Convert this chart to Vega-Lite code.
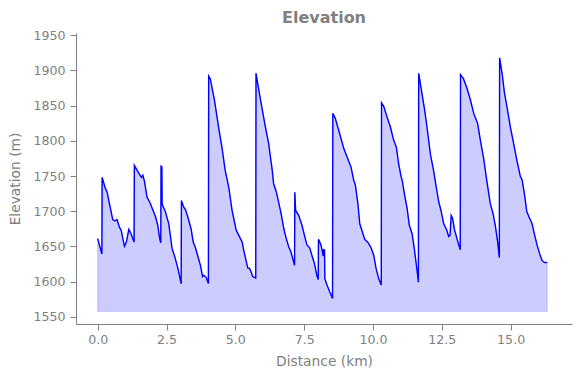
{
  "$schema": "https://vega.github.io/schema/vega-lite/v6.json",
  "width": 496,
  "height": 291,
  "autosize": {"type": "none"},
  "padding": {"left": 76, "top": 33, "right": 8, "bottom": 54},
  "title": {"text": "Elevation", "font": "DejaVu Sans", "fontSize": 16, "fontWeight": "bold", "color": "#808080", "anchor": "middle", "offset": 3},
  "config": {
    "view": {"stroke": null},
    "font": "DejaVu Sans",
    "axis": {
      "grid": false,
      "domainColor": "#808080",
      "tickColor": "#808080",
      "labelColor": "#808080",
      "titleColor": "#808080",
      "labelFont": "DejaVu Sans",
      "titleFont": "DejaVu Sans",
      "labelFontSize": 12.6,
      "titleFontSize": 13.8,
      "titleFontWeight": "normal",
      "tickSize": 6,
      "domainWidth": 1,
      "tickWidth": 1
    }
  },
  "data": {"values": [
    {"d": 0.00, "e": 1661}, {"d": 0.15, "e": 1639}, {"d": 0.16, "e": 1748}, {"d": 0.28, "e": 1732}, {"d": 0.34, "e": 1727},
    {"d": 0.44, "e": 1708}, {"d": 0.545, "e": 1688}, {"d": 0.62, "e": 1686}, {"d": 0.70, "e": 1688}, {"d": 0.79, "e": 1677},
    {"d": 0.85, "e": 1673}, {"d": 0.97, "e": 1650}, {"d": 1.04, "e": 1656}, {"d": 1.13, "e": 1674}, {"d": 1.21, "e": 1668},
    {"d": 1.32, "e": 1656}, {"d": 1.33, "e": 1765}, {"d": 1.49, "e": 1754}, {"d": 1.59, "e": 1748}, {"d": 1.64, "e": 1751},
    {"d": 1.70, "e": 1742}, {"d": 1.79, "e": 1720}, {"d": 1.91, "e": 1711}, {"d": 2.00, "e": 1702}, {"d": 2.10, "e": 1692},
    {"d": 2.18, "e": 1680}, {"d": 2.25, "e": 1661}, {"d": 2.29, "e": 1655}, {"d": 2.30, "e": 1764}, {"d": 2.33, "e": 1763},
    {"d": 2.34, "e": 1710}, {"d": 2.46, "e": 1699}, {"d": 2.58, "e": 1682}, {"d": 2.70, "e": 1647}, {"d": 2.80, "e": 1635},
    {"d": 2.91, "e": 1619}, {"d": 3.03, "e": 1597}, {"d": 3.04, "e": 1715}, {"d": 3.12, "e": 1706}, {"d": 3.19, "e": 1702},
    {"d": 3.27, "e": 1692}, {"d": 3.39, "e": 1675}, {"d": 3.47, "e": 1656}, {"d": 3.55, "e": 1648}, {"d": 3.63, "e": 1637},
    {"d": 3.73, "e": 1623}, {"d": 3.81, "e": 1607}, {"d": 3.85, "e": 1609}, {"d": 3.94, "e": 1606}, {"d": 4.02, "e": 1597},
    {"d": 4.03, "e": 1892}, {"d": 4.09, "e": 1888}, {"d": 4.24, "e": 1858}, {"d": 4.40, "e": 1817}, {"d": 4.52, "e": 1789},
    {"d": 4.63, "e": 1758}, {"d": 4.76, "e": 1734}, {"d": 4.88, "e": 1701}, {"d": 5.03, "e": 1673}, {"d": 5.12, "e": 1666},
    {"d": 5.25, "e": 1656}, {"d": 5.30, "e": 1645}, {"d": 5.40, "e": 1628}, {"d": 5.45, "e": 1619}, {"d": 5.51, "e": 1619},
    {"d": 5.57, "e": 1614}, {"d": 5.63, "e": 1607}, {"d": 5.74, "e": 1605}, {"d": 5.75, "e": 1896}, {"d": 5.91, "e": 1859},
    {"d": 6.08, "e": 1822}, {"d": 6.21, "e": 1796}, {"d": 6.34, "e": 1758}, {"d": 6.39, "e": 1739}, {"d": 6.49, "e": 1727},
    {"d": 6.57, "e": 1713}, {"d": 6.66, "e": 1697}, {"d": 6.76, "e": 1675}, {"d": 6.85, "e": 1661}, {"d": 6.94, "e": 1649},
    {"d": 7.02, "e": 1642}, {"d": 7.15, "e": 1623}, {"d": 7.16, "e": 1727}, {"d": 7.19, "e": 1701}, {"d": 7.30, "e": 1694},
    {"d": 7.42, "e": 1680}, {"d": 7.54, "e": 1661}, {"d": 7.60, "e": 1652}, {"d": 7.70, "e": 1648}, {"d": 7.79, "e": 1636},
    {"d": 7.87, "e": 1626}, {"d": 7.97, "e": 1607}, {"d": 8.01, "e": 1603}, {"d": 8.02, "e": 1660}, {"d": 8.11, "e": 1652},
    {"d": 8.15, "e": 1645}, {"d": 8.19, "e": 1636}, {"d": 8.20, "e": 1645}, {"d": 8.24, "e": 1645}, {"d": 8.25, "e": 1604},
    {"d": 8.33, "e": 1595}, {"d": 8.43, "e": 1585}, {"d": 8.53, "e": 1576}, {"d": 8.54, "e": 1839}, {"d": 8.63, "e": 1832},
    {"d": 8.79, "e": 1810}, {"d": 8.94, "e": 1789}, {"d": 9.08, "e": 1775}, {"d": 9.20, "e": 1763}, {"d": 9.30, "e": 1744},
    {"d": 9.36, "e": 1737}, {"d": 9.45, "e": 1711}, {"d": 9.52, "e": 1682}, {"d": 9.61, "e": 1671}, {"d": 9.70, "e": 1660},
    {"d": 9.81, "e": 1656}, {"d": 9.93, "e": 1648}, {"d": 10.03, "e": 1637}, {"d": 10.11, "e": 1619}, {"d": 10.21, "e": 1604},
    {"d": 10.30, "e": 1595}, {"d": 10.31, "e": 1854}, {"d": 10.39, "e": 1849}, {"d": 10.51, "e": 1834}, {"d": 10.63, "e": 1820},
    {"d": 10.75, "e": 1801}, {"d": 10.85, "e": 1791}, {"d": 10.93, "e": 1768}, {"d": 11.02, "e": 1749}, {"d": 11.06, "e": 1744},
    {"d": 11.14, "e": 1725}, {"d": 11.24, "e": 1704}, {"d": 11.32, "e": 1680}, {"d": 11.42, "e": 1668}, {"d": 11.50, "e": 1647},
    {"d": 11.60, "e": 1616}, {"d": 11.65, "e": 1599}, {"d": 11.66, "e": 1896}, {"d": 11.78, "e": 1867}, {"d": 11.88, "e": 1843},
    {"d": 11.96, "e": 1820}, {"d": 12.09, "e": 1780}, {"d": 12.20, "e": 1758}, {"d": 12.30, "e": 1734}, {"d": 12.39, "e": 1713},
    {"d": 12.47, "e": 1701}, {"d": 12.57, "e": 1682}, {"d": 12.67, "e": 1674}, {"d": 12.75, "e": 1664}, {"d": 12.80, "e": 1666},
    {"d": 12.84, "e": 1694}, {"d": 12.89, "e": 1690}, {"d": 12.96, "e": 1674}, {"d": 13.05, "e": 1661}, {"d": 13.17, "e": 1645},
    {"d": 13.18, "e": 1894}, {"d": 13.29, "e": 1888}, {"d": 13.42, "e": 1874}, {"d": 13.54, "e": 1858}, {"d": 13.66, "e": 1839},
    {"d": 13.76, "e": 1829}, {"d": 13.80, "e": 1825}, {"d": 13.90, "e": 1801}, {"d": 14.02, "e": 1775}, {"d": 14.14, "e": 1742},
    {"d": 14.26, "e": 1711}, {"d": 14.36, "e": 1697}, {"d": 14.45, "e": 1678}, {"d": 14.53, "e": 1656}, {"d": 14.59, "e": 1634},
    {"d": 14.60, "e": 1918}, {"d": 14.69, "e": 1896}, {"d": 14.77, "e": 1870}, {"d": 14.89, "e": 1843}, {"d": 14.99, "e": 1820},
    {"d": 15.11, "e": 1796}, {"d": 15.23, "e": 1772}, {"d": 15.35, "e": 1750}, {"d": 15.42, "e": 1744}, {"d": 15.50, "e": 1725},
    {"d": 15.59, "e": 1699}, {"d": 15.69, "e": 1690}, {"d": 15.78, "e": 1682}, {"d": 15.86, "e": 1668}, {"d": 15.96, "e": 1652},
    {"d": 16.05, "e": 1640}, {"d": 16.14, "e": 1630}, {"d": 16.23, "e": 1627}, {"d": 16.33, "e": 1627}
  ]},
  "encoding": {
    "x": {
      "field": "d", "type": "quantitative", "title": "Distance (km)",
      "scale": {"domain": [-0.79, 17.23], "nice": false, "zero": false},
      "axis": {"values": [0, 2.5, 5, 7.5, 10, 12.5, 15], "format": ".1f", "labelPadding": 3, "titlePadding": 9}
    },
    "y": {
      "field": "e", "type": "quantitative", "title": "Elevation (m)",
      "scale": {"domain": [1539.6, 1953.3], "nice": false, "zero": false},
      "axis": {"values": [1550, 1600, 1650, 1700, 1750, 1800, 1850, 1900, 1950], "format": "d", "labelPadding": 5, "titlePadding": 10}
    }
  },
  "layer": [
    {
      "mark": {"type": "area", "color": "#0000ff", "fillOpacity": 0.2, "stroke": "#0000ff", "strokeOpacity": 0.2, "strokeWidth": 1},
      "encoding": {"y2": {"datum": 1557.7}}
    },
    {
      "mark": {"type": "line", "color": "#0000ff", "strokeWidth": 1.4}
    }
  ]
}
